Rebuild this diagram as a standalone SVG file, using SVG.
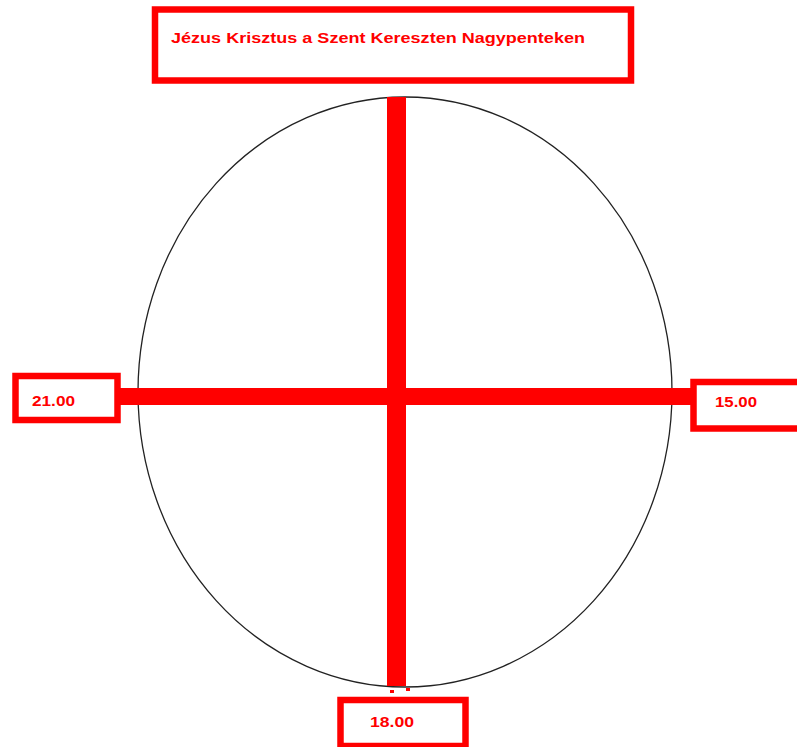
<svg xmlns="http://www.w3.org/2000/svg" width="797" height="747" viewBox="0 0 797 747">
<style>
.box{fill:#fff;stroke:#ff0000;stroke-width:6.5}
.lbl{font-family:"Liberation Sans",Arial,sans-serif;font-weight:bold;fill:#ff0000}
.bar{fill:#ff0000}
</style>
<rect width="797" height="747" fill="#fff"/>
<g id="circle">
<ellipse cx="405" cy="392" rx="267" ry="295" fill="none" stroke="#222" stroke-width="1.3"/>
</g>
<g id="connectors">
<rect class="bar" x="387" y="97" width="19" height="589"/>
<rect class="bar" x="118" y="388" width="577" height="17"/>
<rect class="bar" x="390" y="690" width="4" height="3"/>
<rect class="bar" x="406" y="688" width="4" height="3"/>
</g>
<g id="title">
<rect class="box" x="155" y="9.5" width="476" height="71" stroke-width="5.5"/>
<text class="lbl" x="171" y="43" font-size="15" textLength="414" lengthAdjust="spacingAndGlyphs">Jézus Krisztus a  Szent Kereszten Nagypenteken</text>
</g>
<g id="node-21">
<rect class="box" x="15.5" y="376" width="102" height="44"/>
<text class="lbl" x="32" y="406" font-size="14" textLength="43" lengthAdjust="spacingAndGlyphs">21.00</text>
</g>
<g id="node-15">
<rect class="box" x="693.5" y="382" width="110" height="46.5"/>
<text class="lbl" x="715" y="407" font-size="14" textLength="42" lengthAdjust="spacingAndGlyphs">15.00</text>
</g>
<g id="node-18">
<rect class="box" x="340.5" y="700" width="125" height="46"/>
<text class="lbl" x="370" y="727" font-size="14" textLength="44" lengthAdjust="spacingAndGlyphs">18.00</text>
</g>
</svg>
